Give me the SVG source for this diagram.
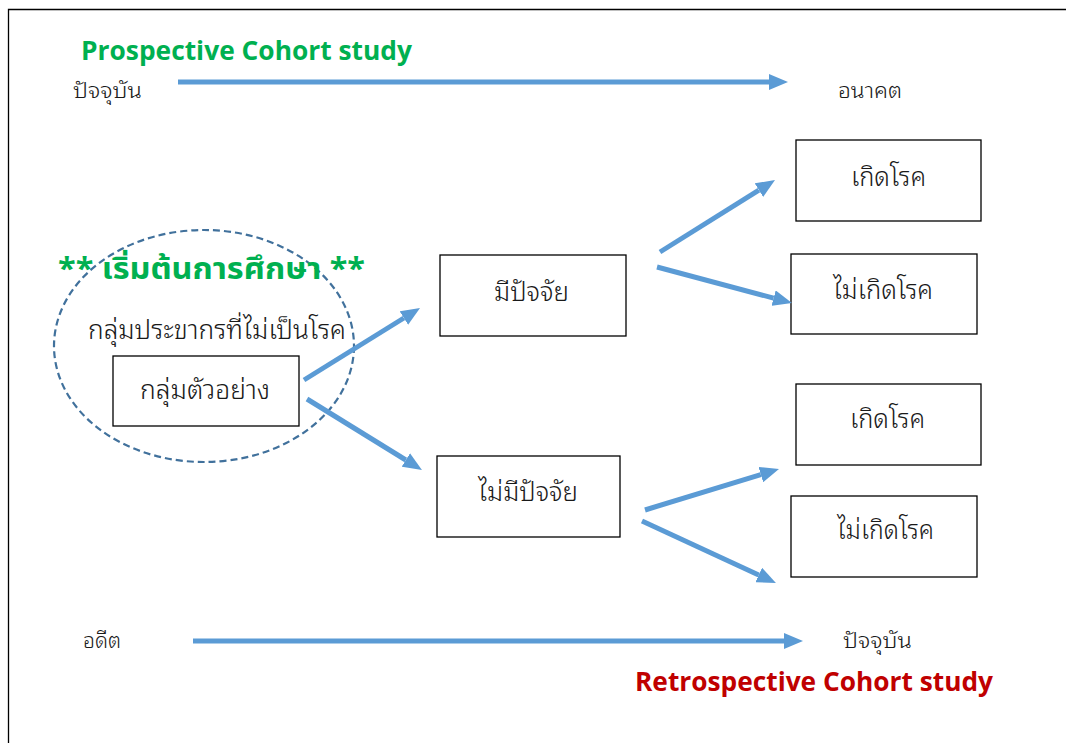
<svg xmlns="http://www.w3.org/2000/svg" width="1066" height="743" viewBox="0 0 1066 743">
<style>
.th{font-family:"Noto Sans Thai Looped","Noto Serif Thai","Loma","Garuda","Noto Sans Thai","Noto Sans",sans-serif;font-weight:300;fill:#1a1a1a;}
.box{fill:#fff;stroke:#000;stroke-width:1.3;}
.arr{stroke:#5B9BD5;stroke-width:5;fill:none;marker-end:url(#ah);}
.en{font-family:"Open Sans","Liberation Sans",sans-serif;font-weight:bold;}
</style>
<defs>
<marker id="ah" viewBox="0 0 19 16" refX="0" refY="8" markerWidth="3.8" markerHeight="3.2" orient="auto" markerUnits="strokeWidth">
<path d="M0,0 L19,8 L0,16 z" fill="#5B9BD5"/>
</marker>
</defs>
<rect width="1066" height="743" fill="#fff"/>
<path d="M8.5,743 V9.5 H1066" fill="none" stroke="#000" stroke-width="1.3"/>

<g id="titles">
<text class="en" x="81" y="60" font-size="27" fill="#00B050" textLength="331" lengthAdjust="spacingAndGlyphs">Prospective Cohort study</text>
<text class="en" x="635" y="691" font-size="27" fill="#C00000" textLength="358" lengthAdjust="spacingAndGlyphs">Retrospective Cohort study</text>
</g>
<g id="timeline-labels">
<text class="th" x="73" y="98" font-size="21" textLength="69" lengthAdjust="spacingAndGlyphs">ปัจจุบัน</text>
<text class="th" x="838" y="98" font-size="21" textLength="64" lengthAdjust="spacingAndGlyphs">อนาคต</text>
<text class="th" x="83" y="648" font-size="21" textLength="38" lengthAdjust="spacingAndGlyphs">อดีต</text>
<text class="th" x="843" y="648" font-size="21" textLength="69" lengthAdjust="spacingAndGlyphs">ปัจจุบัน</text>
</g>

<g id="start-group">
<ellipse cx="204" cy="346" rx="150" ry="116" fill="none" stroke="#41719C" stroke-width="2.2" stroke-dasharray="7,4"/>
<text x="58" y="279" font-family="'Noto Sans Thai','Noto Sans',sans-serif" font-weight="bold" font-size="30" fill="#00B050" textLength="307" lengthAdjust="spacingAndGlyphs">** เริ่มต้นการศึกษา **</text>
<text class="th" x="88" y="339" font-size="26" textLength="258" lengthAdjust="spacingAndGlyphs">กลุ่มประขากรที่ไม่เป็นโรค</text>
</g>
<g id="sample">
<rect class="box" x="113" y="356" width="186" height="70"/>
<text class="th" x="140" y="399" font-size="27" textLength="130" lengthAdjust="spacingAndGlyphs">กลุ่มตัวอย่าง</text>
</g>
<g id="factor">
<rect class="box" x="440" y="255" width="186" height="81"/>
<text class="th" x="494" y="301" font-size="27" textLength="75" lengthAdjust="spacingAndGlyphs">มีปัจจัย</text>
</g>
<g id="nofactor">
<rect class="box" x="437" y="456" width="183" height="81"/>
<text class="th" x="478" y="501" font-size="27" textLength="100" lengthAdjust="spacingAndGlyphs">ไม่มีปัจจัย</text>
</g>
<g id="disease1">
<rect class="box" x="796" y="140" width="185" height="81"/>
<text class="th" x="851" y="186" font-size="27" textLength="75" lengthAdjust="spacingAndGlyphs">เกิดโรค</text>
</g>
<g id="nodisease1">
<rect class="box" x="791" y="254" width="186" height="80"/>
<text class="th" x="833" y="299" font-size="27" textLength="100" lengthAdjust="spacingAndGlyphs">ไม่เกิดโรค</text>
</g>
<g id="disease2">
<rect class="box" x="796" y="384" width="185" height="81"/>
<text class="th" x="850" y="428" font-size="27" textLength="75" lengthAdjust="spacingAndGlyphs">เกิดโรค</text>
</g>
<g id="nodisease2">
<rect class="box" x="791" y="496" width="186" height="81"/>
<text class="th" x="837" y="539" font-size="27" textLength="97" lengthAdjust="spacingAndGlyphs">ไม่เกิดโรค</text>
</g>

<g id="connectors">
<line class="arr" x1="178" y1="82" x2="769" y2="82"/>
<line class="arr" x1="193" y1="641" x2="784" y2="641"/>
<line class="arr" x1="304" y1="380" x2="403.9" y2="318"/>
<line class="arr" x1="307" y1="399" x2="405.8" y2="460"/>
<line class="arr" x1="660" y1="252" x2="758.9" y2="190.1"/>
<line class="arr" x1="657" y1="267" x2="773.6" y2="298.1"/>
<line class="arr" x1="645" y1="510" x2="760.8" y2="474.6"/>
<line class="arr" x1="642" y1="521" x2="758.7" y2="575"/>
</g>
</svg>
